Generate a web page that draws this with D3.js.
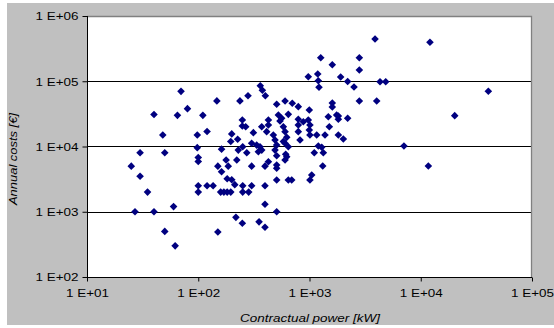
<!DOCTYPE html>
<html><head><meta charset="utf-8">
<script src="https://cdn.jsdelivr.net/npm/d3@7"></script>
<style>html,body{margin:0;padding:0;background:#fff;}svg{display:block;}</style>
</head><body>
<svg id="chart" width="554" height="328"></svg>
<script>
// Contractual power [kW]
const power = [25,27,30,30,35,40,40,48,50,50,60,62,65,70,80,98,98,100,100,100,100,110,120,120,136,147,150,150,162,162,178,186,159,170,182,196,182,200,213,196,200,222,226,229,218,237,249,249,267,251,251,251,249,273,280,284,302,302,302,313,335,347,352,359,361,372,377,401,398,398,398,398,427,427,507,603,700,793,996,525,562,645,543,793,793,880,975,1009,996,1476,1754,1816,1507,793,822,1009,1161,1378,1816,2014,1200,1288,1104,1331,1315,611,603,624,427,507,507,507,645,692,1047,1009,507,975,1186,1200,1217,1262,1603,1906,2203,2512,2805,2805,3882,12100,4305,4842,1603,1603,2805,4018,2203,1816,7063,11700,20200,40500,412,473,490,507,490,582,603,624,603,645,372,507,582];
// Annual costs [€]
const costs = [5000,1000,8000,3500,2000,31000,1000,15000,8000,500,1200,300,30000,70000,38000,15000,9600,6800,5900,2500,2000,30000,17000,2500,2500,50000,5000,490,9100,4100,6200,5000,2000,2000,2000,2000,3200,3100,2600,11900,15600,6200,12900,8800,820,50000,25500,20600,20100,9900,2500,2000,665,8000,60000,2000,2500,5000,11200,16300,10500,8300,700,9900,85500,8800,72600,60100,5000,2500,1300,580,25500,21400,44400,49800,45900,40800,36300,30400,27100,31100,24600,26100,21400,24000,25500,21400,17900,28600,30400,26100,20100,16900,12600,15000,15000,15000,15000,13000,10200,9730,8040,8040,5020,7590,6210,6980,5850,5200,4630,3070,3070,3070,3660,3070,1000,117500,129200,101900,80800,229600,179400,116100,99100,81600,229600,148700,444600,395000,98400,98400,46400,40300,49800,49800,27100,29300,10200,5020,29700,70100,16900,15000,12600,10500,8800,20100,16900,13800,11200,9930,20100,7200,11900];
const xTicks = [1e1,1e2,1e3,1e4,1e5];
const xTickLabels = ["1 E+01","1 E+02","1 E+03","1 E+04","1 E+05"];
const yTicks = [1e2,1e3,1e4,1e5,1e6];
const yTickLabels = ["1 E+02","1 E+03","1 E+04","1 E+05","1 E+06"];
const xTitle = "Contractual power [kW]";
const yTitle = "Annual costs [€]";

const svg = d3.select("#chart");
const L=87, R=532, T=16, B=277;
const x = d3.scaleLog().domain([1e1,1e5]).range([L,R]);
const y = d3.scaleLog().domain([1e2,1e6]).range([B,T]);
const font = "'Liberation Sans', Arial, sans-serif";

svg.append("rect").attr("x",7).attr("y",3).attr("width",547).attr("height",322).attr("fill","#c0c0c0");
svg.append("rect").attr("x",L).attr("y",T).attr("width",R-L).attr("height",B-T).attr("fill","#fff");

// gridlines
svg.append("g").selectAll("line").data(yTicks.slice(1,4)).join("line")
  .attr("x1",L).attr("x2",R).attr("y1",d=>Math.round(y(d))+0.5).attr("y2",d=>Math.round(y(d))+0.5)
  .attr("stroke","#000").attr("stroke-width",1);
// border top/right
svg.append("path").attr("d",`M${L},${T+0.5}H${R-0.5}V${B}`).attr("fill","none").attr("stroke","#808080").attr("stroke-width",1.3);

// axes
const yAxis = d3.axisLeft(y).tickValues(yTicks).tickFormat((d,i)=>yTickLabels[i]).tickSize(5).tickPadding(4);
const gy = svg.append("g").attr("transform",`translate(${L+0.5},0)`).call(yAxis);
const xAxis = d3.axisBottom(x).tickValues(xTicks).tickFormat((d,i)=>xTickLabels[i]).tickSize(4).tickPadding(8);
const gx = svg.append("g").attr("transform",`translate(0,${B+0.5})`).call(xAxis);
[gx,gy].forEach(g=>{
  g.select(".domain").attr("stroke","#000").attr("d", g===gx?`M${L},0H${R}`:`M0,${T}V${B}`);
  g.selectAll(".tick line").attr("stroke","#000");
  g.selectAll(".tick text").attr("fill","#000").attr("font-family",font).attr("font-size",11)
    .attr("textLength",43).attr("lengthAdjust","spacingAndGlyphs");
});
gy.selectAll(".tick text").attr("dy","0.36em");

// axis titles
svg.append("text").attr("x",310).attr("y",322).attr("text-anchor","middle")
  .attr("font-family",font).attr("font-size",11).attr("font-style","italic")
  .attr("textLength",140).attr("lengthAdjust","spacingAndGlyphs").text(xTitle);
svg.append("text").attr("transform","translate(17,159) rotate(-90)").attr("text-anchor","middle")
  .attr("font-family",font).attr("font-size",11).attr("font-style","italic")
  .attr("textLength",92).attr("lengthAdjust","spacingAndGlyphs").text(yTitle);

// points
const r = 3.8;
svg.append("g").selectAll("path").data(power.map((p,i)=>[p,costs[i]])).join("path")
  .attr("d",d=>{const cx=x(d[0]), cy=y(d[1]); return `M${cx},${cy-r}L${cx+r},${cy}L${cx},${cy+r}L${cx-r},${cy}Z`;})
  .attr("fill","#000080");
</script>
</body></html>
